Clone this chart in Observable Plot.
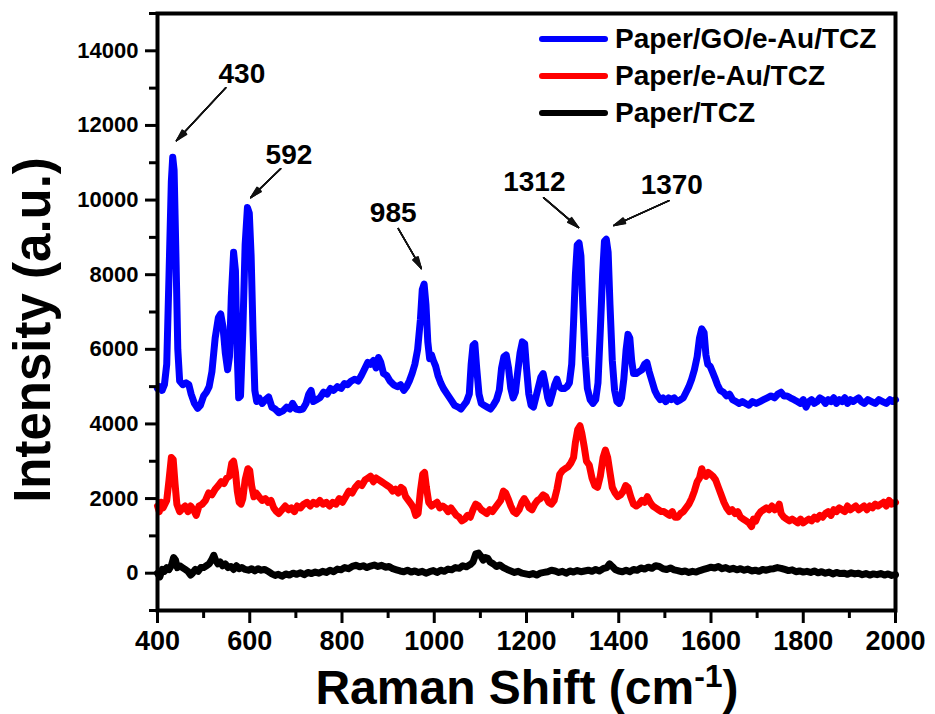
<!DOCTYPE html>
<html><head><meta charset="utf-8">
<script src="https://cdn.jsdelivr.net/npm/d3@7"></script>
<script src="https://cdn.jsdelivr.net/npm/@observablehq/plot@0.6"></script>
<style>
html,body{margin:0;padding:0;background:#fff;}
#chart{position:relative;width:935px;height:714px;font-family:"Liberation Sans",Arial,sans-serif;}
#chart svg{position:absolute;left:0;top:0;}
.legend{position:absolute;left:539px;top:20px;}
.row{display:flex;align-items:center;height:37px;}
.sw{width:69px;height:6px;border-radius:3px;margin-right:7px;}
.lab{font-size:28px;font-weight:bold;color:#000;white-space:nowrap;}
</style></head><body><div id="chart"></div>
<script>
// ---- Data ----
const seriesNames = ["Paper/GO/e-Au/TCZ", "Paper/e-Au/TCZ", "Paper/TCZ"];
const seriesColors = ["#0000ff", "#ff0000", "#000000"];

const goShift = [400,405,410,415,420,425,430,433,436,440,444,448,455,462,468,473,480,487,493,500,506,512,518,525,532,537,542,547,552,556,560,565,569,572,576,580,585,590,595,599,603,607,611,615,620,627,634,641,648,655,663,672,680,687,693,700,708,715,722,728,733,738,745,752,760,768,775,782,790,798,805,812,820,828,835,842,850,856,862,868,874,879,884,890,897,904,912,920,927,934,940,946,952,958,964,970,974,978,982,986,990,994,998,1003,1008,1014,1020,1028,1036,1044,1052,1058,1064,1070,1076,1080,1084,1088,1092,1097,1102,1108,1115,1122,1128,1135,1141,1146,1151,1156,1161,1166,1171,1176,1181,1186,1191,1196,1200,1205,1210,1215,1220,1226,1231,1236,1241,1246,1250,1256,1261,1266,1271,1276,1282,1288,1293,1298,1302,1306,1310,1314,1318,1322,1327,1332,1338,1344,1350,1355,1360,1365,1369,1373,1377,1381,1386,1391,1396,1401,1406,1411,1416,1420,1424,1428,1432,1438,1444,1450,1456,1461,1466,1472,1478,1484,1490,1496,1502,1508,1514,1520,1527,1534,1540,1546,1552,1558,1564,1570,1575,1580,1585,1589,1593,1598,1603,1608,1614,1620,1627,1634,1640,1647,1654,1661,1668,1675,1682,1690,1698,1706,1714,1722,1730,1738,1745,1752,1758,1765,1772,1780,1787,1794,1800,1806,1812,1818,1824,1830,1836,1842,1848,1854,1860,1866,1872,1878,1884,1890,1896,1902,1908,1914,1920,1926,1932,1940,1948,1956,1964,1972,1980,1988,1994,2000];
const goIntensity = [4950,5000,4900,5050,5600,8000,10500,11150,10800,8500,6000,5150,5050,5100,5050,4800,4550,4420,4500,4750,4850,5000,5400,6300,6850,6950,6600,5900,5450,5800,7400,8600,8100,6200,4700,4750,6500,8800,9800,9650,8500,6500,4900,4600,4700,4550,4650,4720,4450,4400,4300,4350,4450,4400,4550,4400,4380,4400,4550,4800,4900,4600,4650,4700,4850,4800,4950,4900,5000,4950,5080,5050,5150,5200,5150,5300,5500,5650,5600,5700,5500,5780,5650,5350,5300,5150,5050,5000,5050,4900,5000,5150,5350,5600,6000,6800,7600,7750,7200,6200,5750,5850,5700,5550,5300,5100,4950,4800,4650,4500,4450,4400,4500,4600,4800,5600,6100,6150,5500,4800,4550,4500,4450,4400,4500,4650,4900,5500,5800,5850,5500,4950,4700,4850,5400,5900,6200,6150,5500,4800,4500,4450,4700,5000,5250,5350,5050,4700,4550,4800,5050,5200,5000,4950,4950,5000,5100,5600,6700,8000,8800,8850,8500,7200,5800,4950,4650,4550,4650,5100,6500,8000,8900,8950,8600,7200,5700,4900,4600,4550,4700,5200,6000,6400,6300,5700,5350,5350,5400,5450,5600,5650,5400,5150,4900,4750,4650,4700,4600,4700,4650,4700,4600,4650,4700,4850,5000,5200,5450,5800,6300,6550,6450,5850,5600,5550,5400,5250,5050,4900,4850,4750,4800,4650,4600,4550,4600,4550,4500,4600,4550,4600,4650,4700,4750,4700,4800,4850,4750,4750,4700,4650,4600,4550,4650,4450,4600,4650,4550,4600,4700,4650,4550,4650,4600,4700,4550,4650,4600,4700,4550,4650,4600,4650,4700,4600,4550,4650,4600,4550,4650,4600,4550,4650,4600,4650];

const auShift = [400,404,408,412,416,420,425,430,434,438,442,448,455,460,466,472,478,484,490,497,504,511,518,525,532,538,544,550,556,561,565,569,573,577,581,585,590,596,600,604,609,614,620,627,634,640,646,652,658,663,670,677,684,690,697,703,710,717,724,731,738,745,752,759,766,773,780,787,794,801,808,815,822,829,836,843,850,856,862,868,874,880,886,892,898,904,910,916,922,928,933,938,944,950,955,960,965,970,975,979,983,988,994,1000,1006,1012,1018,1024,1030,1036,1042,1048,1054,1060,1066,1072,1078,1084,1090,1096,1102,1108,1114,1120,1126,1132,1138,1144,1150,1155,1160,1166,1172,1178,1184,1190,1195,1200,1206,1212,1218,1224,1230,1236,1242,1248,1254,1260,1266,1272,1278,1284,1290,1296,1302,1306,1311,1316,1320,1325,1330,1336,1342,1348,1354,1360,1366,1371,1376,1381,1386,1392,1398,1404,1410,1415,1420,1426,1432,1438,1444,1450,1456,1462,1468,1474,1480,1486,1492,1498,1504,1510,1516,1522,1528,1534,1540,1546,1552,1558,1564,1570,1575,1580,1584,1589,1594,1599,1604,1610,1616,1622,1628,1634,1640,1646,1652,1658,1664,1670,1676,1682,1688,1692,1697,1702,1708,1714,1720,1726,1732,1738,1744,1748,1752,1758,1764,1770,1776,1782,1788,1794,1800,1806,1812,1818,1824,1830,1836,1842,1848,1854,1860,1866,1872,1878,1884,1890,1896,1902,1908,1914,1920,1926,1932,1938,1944,1950,1956,1962,1968,1974,1980,1986,1992,2000];
const auIntensity = [1800,1650,1900,1750,1850,1950,2500,3100,3050,2400,1850,1650,1750,1800,1650,1800,1700,1550,1800,1850,1950,2150,2100,2250,2350,2450,2400,2550,2600,2950,3000,2700,2200,1900,1850,2000,2500,2800,2750,2350,2050,2150,2050,1950,2000,1900,1950,1750,1650,1600,1700,1800,1700,1750,1650,1800,1750,1850,1900,1800,1900,1850,1950,1850,1900,1800,1900,1850,2000,1900,2050,2200,2150,2300,2400,2350,2500,2550,2600,2450,2550,2500,2450,2400,2350,2300,2200,2250,2150,2300,2250,2050,1950,1850,1750,1550,1600,2200,2650,2700,2300,1900,1800,1850,1900,1750,1800,1750,1650,1750,1650,1550,1500,1400,1450,1550,1500,1700,1850,1800,1700,1650,1600,1700,1650,1750,1850,1950,2200,2150,2000,1800,1650,1600,1700,1900,2000,1900,1750,1700,1850,1950,2000,2100,2050,1900,1850,1950,2250,2650,2750,2800,2850,2950,3100,3500,3850,3950,3750,3400,3000,2900,2550,2350,2300,2600,3100,3300,3100,2700,2300,2150,2050,2100,2200,2350,2300,2050,1850,1800,1850,1950,1900,2050,1900,1800,1750,1700,1650,1650,1600,1550,1650,1500,1500,1600,1650,1750,1850,2000,2200,2450,2550,2800,2650,2600,2700,2650,2600,2500,2300,2100,1900,1750,1650,1700,1600,1650,1500,1450,1400,1350,1250,1450,1400,1550,1650,1700,1750,1700,1800,1700,1750,1850,1600,1500,1450,1400,1450,1400,1350,1450,1350,1400,1450,1400,1500,1450,1550,1500,1600,1650,1550,1700,1650,1750,1700,1650,1800,1700,1750,1800,1700,1750,1800,1700,1800,1750,1850,1800,1850,1900,1800,1950,1850,1900];

const tczShift = [400,405,410,415,420,425,430,435,439,443,448,454,460,466,472,476,482,488,494,500,506,512,517,522,526,531,536,541,547,553,559,565,571,577,583,590,597,604,611,618,625,632,640,648,655,662,670,678,686,694,702,710,718,726,734,742,750,758,766,774,782,790,798,806,814,822,830,838,846,854,862,870,878,886,894,902,910,918,926,934,942,950,958,966,974,982,990,998,1006,1014,1022,1030,1038,1046,1054,1062,1070,1078,1084,1090,1096,1101,1106,1111,1116,1121,1128,1135,1142,1150,1158,1166,1174,1182,1190,1198,1206,1214,1222,1230,1238,1246,1254,1262,1270,1278,1286,1294,1302,1310,1318,1326,1334,1342,1350,1358,1366,1374,1380,1386,1392,1400,1408,1416,1424,1432,1440,1448,1456,1464,1472,1480,1488,1496,1504,1512,1520,1528,1536,1544,1552,1560,1568,1576,1584,1592,1600,1608,1616,1624,1632,1640,1648,1656,1664,1672,1680,1688,1696,1704,1712,1720,1728,1736,1744,1752,1760,1768,1776,1784,1792,1800,1808,1816,1824,1832,1840,1848,1856,1864,1872,1880,1888,1896,1904,1912,1920,1928,1936,1944,1952,1960,1968,1976,1984,1992,2000];
const tczIntensity = [0,-100,100,50,150,100,200,420,350,150,200,150,100,50,-50,0,100,50,150,150,200,250,350,480,350,250,300,200,250,150,180,100,200,120,150,100,80,120,60,120,80,100,50,-20,-60,-30,-80,-20,-50,0,-30,10,-40,20,-10,30,0,50,20,80,40,110,90,150,120,180,210,170,200,150,190,220,180,210,160,180,120,90,60,40,80,30,60,20,50,0,40,70,20,80,50,110,90,150,130,200,170,230,300,520,540,460,350,420,400,300,250,180,220,150,100,60,20,50,0,-20,-40,-10,-50,0,20,40,80,60,20,50,0,60,30,70,40,60,80,50,100,60,120,150,250,180,100,60,40,80,40,100,80,140,110,160,130,200,180,120,100,140,90,70,40,60,20,50,30,70,100,130,160,140,180,120,150,100,130,90,120,80,110,60,80,50,100,80,110,120,150,130,100,70,90,40,60,30,50,20,60,10,40,0,30,-20,20,-10,0,-30,10,-20,0,-40,-10,-50,-20,-40,-10,-50,-20,-60,-40];

const xMajorTicks = [400,600,800,1000,1200,1400,1600,1800,2000];
const xMinorTicks = [500,700,900,1100,1300,1500,1700,1900];
const yMajorTicks = [0,2000,4000,6000,8000,10000,12000,14000];
const yMinorTicks = [-1000,1000,3000,5000,7000,9000,11000,13000,15000];

// peak annotations: label, label position, arrow start/end (data units)
const peakLabels = ["430","592","985","1312","1370"];
const labelX = [583,685,911,1217,1515];
const labelY = [13385,11220,9640,10490,10410];
const arrowX1 = [548,667,922,1237,1509];
const arrowY1 = [13010,10840,9236,10065,9985];
const arrowX2 = [441,602,972,1313,1389];
const arrowY2 = [11590,10065,8165,9262,9316];

// ---- Build tables ----
const zip = (xs, ys) => xs.map((x, i) => ({x, y: ys[i]}));
const goData = zip(goShift, goIntensity);
const auData = zip(auShift, auIntensity);
const tczData = zip(tczShift, tczIntensity);
const ann = peakLabels.map((label, i) => ({label, tx: labelX[i], ty: labelY[i], x1: arrowX1[i], y1: arrowY1[i], x2: arrowX2[i], y2: arrowY2[i]}));

const font = "Liberation Sans, Arial, sans-serif";
const fmt = d => String(d);
const lineStyle = {x: "x", y: "y", strokeWidth: 7, strokeLinejoin: "round", strokeLinecap: "round"};

const headMarks = [6, 12, 18, 24, 30].map(a => Plot.arrow(ann, {x1: "x1", y1: "y1", x2: "x2", y2: "y2", stroke: "#111", strokeWidth: 1.4, headAngle: a, headLength: 13}));

const chart = Plot.plot({
  width: 935, height: 714,
  marginLeft: 157, marginRight: 40, marginTop: 13, marginBottom: 104,
  style: {fontFamily: font, color: "#000", background: "#fff", overflow: "visible"},
  x: {domain: [400, 2000]},
  y: {domain: [-1000, 15000]},
  marks: [
    Plot.line(tczData, {...lineStyle, stroke: seriesColors[2]}),
    Plot.line(auData, {...lineStyle, stroke: seriesColors[1]}),
    Plot.line(goData, {...lineStyle, stroke: seriesColors[0]}),
    Plot.axisX(xMajorTicks, {tickSize: 13, tickPadding: 7, strokeWidth: 3, fontSize: 27, fontWeight: "bold", tickFormat: fmt, label: null}),
    Plot.axisX(xMinorTicks, {tickSize: 8, strokeWidth: 3, tickFormat: () => "", label: null}),
    Plot.axisY(yMajorTicks, {tickSize: 12, tickPadding: 7, strokeWidth: 3, fontSize: 22, fontWeight: "bold", tickFormat: fmt, label: null}),
    Plot.axisY(yMinorTicks, {tickSize: 8, strokeWidth: 3, tickFormat: () => "", label: null}),
    Plot.frame({stroke: "#000", strokeWidth: 4}),
    Plot.arrow(ann, {x1: "x1", y1: "y1", x2: "x2", y2: "y2", stroke: "#333", strokeWidth: 1, headLength: 0}),
    ...headMarks,
    Plot.text(ann, {x: "tx", y: "ty", text: "label", fontSize: 28, fontWeight: "bold", fill: "#000"})
  ]
});

const container = document.getElementById("chart");
container.appendChild(chart);

// axis titles
const svg = d3.select(chart);
svg.append("text")
  .attr("transform", "translate(50,330) rotate(-90)")
  .attr("text-anchor", "middle")
  .attr("font-family", font).attr("font-size", 51).attr("font-weight", "bold").attr("fill", "#000")
  .text("Intensity (a.u.)");
const xt = svg.append("text")
  .attr("x", 527).attr("y", 704)
  .attr("text-anchor", "middle")
  .attr("font-family", font).attr("font-size", 48).attr("font-weight", "bold").attr("fill", "#000");
xt.append("tspan").text("Raman Shift (cm");
xt.append("tspan").attr("font-size", 32).attr("dy", -17).text("-1");
xt.append("tspan").attr("dy", 17).text(")");

// legend
const legend = document.createElement("div");
legend.className = "legend";
seriesNames.forEach((name, i) => {
  const row = document.createElement("div");
  row.className = "row";
  const sw = document.createElement("div");
  sw.className = "sw";
  sw.style.background = seriesColors[i];
  const lab = document.createElement("span");
  lab.className = "lab";
  lab.textContent = name;
  row.appendChild(sw); row.appendChild(lab);
  legend.appendChild(row);
});
container.appendChild(legend);
</script></body></html>
